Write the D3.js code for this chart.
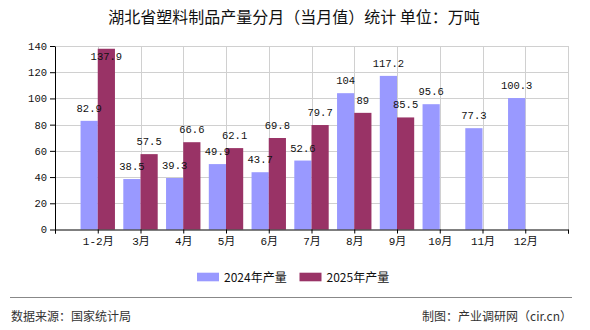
<!DOCTYPE html>
<html>
<head>
<meta charset="utf-8">
<script src="https://cdn.jsdelivr.net/npm/d3@7/dist/d3.min.js"></script>
<style>
  html, body { margin: 0; padding: 0; background: #fff; }
  svg { display: block; }
</style>
</head>
<body>
<svg id="chart" width="590" height="330"></svg>
<script>
// Monthly plastic products output, Hubei (10k tonnes)
const categories = ["1-2月", "3月", "4月", "5月", "6月", "7月", "8月", "9月", "10月", "11月", "12月"];
const values2024 = [82.9, 38.5, 39.3, 49.9, 43.7, 52.6, 104, 117.2, 95.6, 77.3, 100.3];
const values2025 = [137.9, 57.5, 66.6, 62.1, 69.8, 79.7, 89, 85.5, null, null, null];
const yTicks = [0, 20, 40, 60, 80, 100, 120, 140];
const seriesNames = ["2024年产量", "2025年产量"];
const colors = ["#9999ff", "#993366"];

const svg = d3.select("#chart");
const plotLeft = 55, plotRight = 568, plotTop = 46, plotBottom = 229.5;
const monoFont = "'Liberation Mono', 'DejaVu Sans Mono', monospace";
const cjkFont = "'Noto Sans CJK SC', 'Noto Sans', sans-serif";

// Categories sit on the grid lines; an empty slot pads each end
const slots = ["__start", ...categories, "__end"];
const x = d3.scalePoint().domain(slots).range([plotLeft, plotRight]).padding(0);
const y = d3.scaleLinear().domain([0, 140]).range([plotBottom, plotTop]);
const bw = 17.2;

// Title
svg.append("text")
  .attr("x", 294).attr("y", 23)
  .attr("text-anchor", "middle")
  .attr("font-family", cjkFont).attr("font-size", 16)
  .attr("fill", "#111")
  .text("湖北省塑料制品产量分月（当月值）统计 单位：万吨");

// Grid
const grid = svg.append("g").attr("stroke", "#d0d0d0").attr("stroke-width", 1);
grid.selectAll("line.h").data(yTicks.filter(t => t > 0)).join("line")
  .attr("class", "h")
  .attr("x1", plotLeft).attr("x2", plotRight)
  .attr("y1", d => Math.round(y(d)) + 0.5).attr("y2", d => Math.round(y(d)) + 0.5);
grid.selectAll("line.v").data(slots.slice(1)).join("line")
  .attr("class", "v")
  .attr("x1", d => Math.round(x(d)) + 0.5).attr("x2", d => Math.round(x(d)) + 0.5)
  .attr("y1", plotTop).attr("y2", plotBottom);

// Bars
const series = [values2024, values2025];
series.forEach((vals, si) => {
  const data = categories.map((c, i) => ({ c, v: vals[i] })).filter(d => d.v != null);
  svg.append("g").selectAll("rect").data(data).join("rect")
    .attr("x", d => x(d.c) + (si === 0 ? -bw : 0))
    .attr("width", bw)
    .attr("y", d => y(d.v))
    .attr("height", d => plotBottom - y(d.v))
    .attr("fill", colors[si]);
});

// Value labels
series.forEach((vals, si) => {
  const data = categories.map((c, i) => ({ c, v: vals[i] })).filter(d => d.v != null);
  svg.append("g").selectAll("text").data(data).join("text")
    .attr("x", d => x(d.c) + (si === 0 ? -bw / 2 : bw / 2))
    .attr("y", d => {
      const yy = y(d.v) - 9;
      return (yy - 8 < plotTop) ? y(d.v) + 11 : yy;
    })
    .attr("text-anchor", "middle")
    .attr("font-family", monoFont).attr("font-size", 10.5)
    .attr("fill", "#111")
    .text(d => d.v);
});

// Axes
const xAxis = svg.append("g")
  .attr("transform", `translate(0,${plotBottom})`)
  .call(d3.axisBottom(x).tickSize(4).tickPadding(4)
    .tickFormat(d => d.startsWith("__") ? "" : d));
xAxis.select(".domain").attr("stroke", "#000");
xAxis.selectAll(".tick line").attr("stroke", "#000");
xAxis.selectAll(".tick text")
  .attr("font-family", `${monoFont}, ${cjkFont}`).attr("font-size", 11).attr("fill", "#111");

const yAxis = svg.append("g")
  .attr("transform", `translate(${plotLeft},0)`)
  .call(d3.axisLeft(y).tickValues(yTicks).tickSize(5).tickPadding(3).tickSizeOuter(0));
yAxis.select(".domain").attr("stroke", "#000");
yAxis.selectAll(".tick line").attr("stroke", "#000");
yAxis.selectAll(".tick text")
  .attr("font-family", monoFont).attr("font-size", 10.5).attr("fill", "#111");

// Legend
const legendX = [197, 299.5];
const legend = svg.append("g");
seriesNames.forEach((name, i) => {
  legend.append("rect")
    .attr("x", legendX[i]).attr("y", 272.7)
    .attr("width", 22).attr("height", 8.6)
    .attr("fill", colors[i]);
  legend.append("text")
    .attr("x", legendX[i] + 27).attr("y", 281.5)
    .attr("font-family", cjkFont).attr("font-size", 12)
    .attr("fill", "#111")
    .text(name);
});

// Footer
svg.append("line")
  .attr("x1", 10).attr("x2", 572)
  .attr("y1", 297.5).attr("y2", 297.5)
  .attr("stroke", "#888").attr("stroke-width", 1);
svg.append("text")
  .attr("x", 11).attr("y", 320.5)
  .attr("font-family", cjkFont).attr("font-size", 12)
  .attr("fill", "#333")
  .text("数据来源：国家统计局");
svg.append("text")
  .attr("x", 572).attr("y", 320.5)
  .attr("text-anchor", "end")
  .attr("font-family", cjkFont).attr("font-size", 12)
  .attr("fill", "#333")
  .text("制图：产业调研网（cir.cn）");
</script>
</body>
</html>
